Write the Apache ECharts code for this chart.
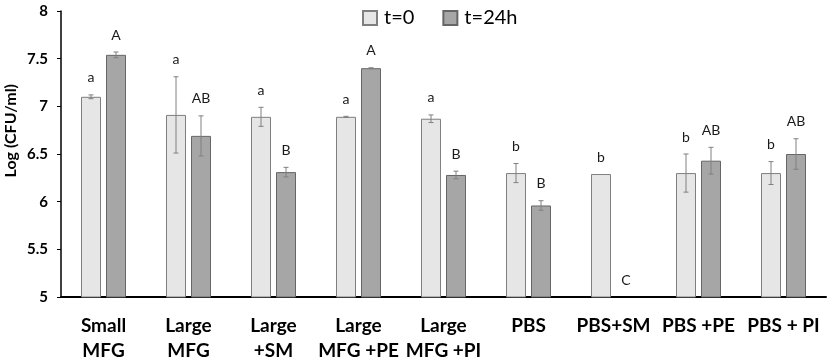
<!DOCTYPE html>
<html>
<head>
<meta charset="utf-8">
<script src="https://cdn.jsdelivr.net/npm/echarts@6/dist/echarts.min.js"></script>
<style>
  html, body { margin: 0; padding: 0; background: #fff; }
  #chart { width: 829px; height: 363px; }
</style>
</head>
<body>
<div id="chart"></div>
<script>
var categories = ['Small\nMFG', 'Large\nMFG', 'Large\n+SM', 'Large\nMFG +PE', 'Large\nMFG +PI', 'PBS', 'PBS+SM', 'PBS +PE', 'PBS + PI'];
var t0 = [7.10, 6.91, 6.89, 6.89, 6.87, 6.30, 6.29, 6.30, 6.30];
var t0Err = [0.02, 0.40, 0.10, 0.005, 0.04, 0.10, 0, 0.20, 0.12];
var t24 = [7.54, 6.69, 6.31, 7.40, 6.28, 5.96, null, 6.43, 6.50];
var t24Err = [0.03, 0.21, 0.05, 0.005, 0.04, 0.05, 0, 0.14, 0.16];
var t0Letters = ['a', 'a', 'a', 'a', 'a', 'b', 'b', 'b', 'b'];
var t24Letters = ['A', 'AB', 'B', 'A', 'B', 'B', 'C', 'AB', 'AB'];
var yTicks = [5, 5.5, 6, 6.5, 7, 7.5, 8];

var chartDom = document.getElementById('chart');
var myChart = echarts.init(chartDom);
var option;

var yMin = yTicks[0];
var font = 'Lato, "Open Sans", sans-serif';

// error bar + letter for one time point
function errorSeries(values, errs, letters, offset) {
    var data = values.map(function (v, i) {
        return [i, v == null ? yMin : v, errs[i] || 0];
    });
    return {
        type: 'custom',
        silent: true,
        z: 10,
        data: data,
        renderItem: function (params, api) {
            var i = params.dataIndex;
            var v = api.value(1);
            var e = api.value(2);
            var top = api.coord([i, v + e]);
            var bot = api.coord([i, v - e]);
            var x = top[0] + offset;
            var children = [];
            if (e > 0) {
                var st = { stroke: '#808080', lineWidth: 1 };
                children.push(
                    { type: 'line', shape: { x1: x, y1: top[1], x2: x, y2: bot[1] }, style: st },
                    { type: 'line', shape: { x1: x - 2.5, y1: top[1], x2: x + 2.5, y2: top[1] }, style: st },
                    { type: 'line', shape: { x1: x - 2.5, y1: bot[1], x2: x + 2.5, y2: bot[1] }, style: st }
                );
            }
            children.push({
                type: 'text',
                x: x,
                y: top[1] - 17,
                style: {
                    text: letters[i],
                    fill: '#1a1a1a',
                    font: '14px ' + font,
                    align: 'center',
                    verticalAlign: 'middle'
                }
            });
            return { type: 'group', children: children };
        }
    };
}

option = {
    animation: false,
    textStyle: { fontFamily: font },
    legend: {
        top: 3,
        left: 357,
        itemWidth: 14,
        itemHeight: 14,
        itemGap: 28,
        icon: 'rect',
        textStyle: { fontSize: 20, color: '#000', fontFamily: font, padding: [0, 0, 0, 2] },
        data: ['t=0', 't=24h']
    },
    graphic: [{
        type: 'text',
        left: 3,
        top: 84,
        rotation: Math.PI / 2,
        style: {
            text: 'Log (CFU/ml)',
            font: 'bold 16px ' + font,
            fill: '#000'
        }
    }],
    grid: {
        left: 61,
        right: 3,
        top: 11,
        bottom: 63
    },
    xAxis: {
        type: 'category',
        data: categories,
        axisLine: { lineStyle: { color: '#000', width: 2 } },
        axisTick: { show: false },
        axisLabel: {
            interval: 0,
            margin: 16,
            fontSize: 19,
            fontWeight: 'bold',
            lineHeight: 25,
            color: '#000'
        }
    },
    yAxis: {
        type: 'value',
        min: yMin,
        max: yTicks[yTicks.length - 1],
        interval: 0.5,
        splitLine: { show: false },
        axisLine: { show: true, lineStyle: { color: '#000', width: 1.5 } },
        axisTick: { show: true, length: 4, lineStyle: { color: '#000' } },
        axisLabel: { fontSize: 15, fontWeight: 'bold', color: '#000', margin: 13 }
    },
    series: [
        {
            name: 't=0',
            type: 'bar',
            data: t0,
            barWidth: 20,
            barGap: '25%',
            itemStyle: { color: '#e6e6e6', borderColor: '#7f7f7f', borderWidth: 1 }
        },
        {
            name: 't=24h',
            type: 'bar',
            data: t24,
            barWidth: 20,
            itemStyle: { color: '#a6a6a6', borderColor: '#666666', borderWidth: 1 }
        },
        errorSeries(t0, t0Err, t0Letters, -12.5),
        errorSeries(t24, t24Err, t24Letters, 12.5)
    ]
};

option && myChart.setOption(option);

window.addEventListener('resize', myChart.resize);
</script>
</body>
</html>
